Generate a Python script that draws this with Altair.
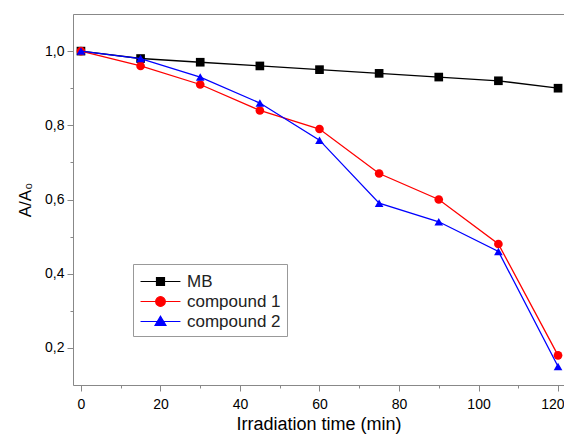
import altair as alt
import pandas as pd

time = [0, 15, 30, 45, 60, 75, 90, 105, 120]
mb = [1.00, 0.98, 0.97, 0.96, 0.95, 0.94, 0.93, 0.92, 0.90]
comp1 = [1.00, 0.96, 0.91, 0.84, 0.79, 0.67, 0.60, 0.48, 0.18]
comp2 = [1.00, 0.98, 0.93, 0.86, 0.76, 0.59, 0.54, 0.46, 0.15]
series = ["MB", "compound 1", "compound 2"]
colors = ["#000000", "#ff0000", "#0000ff"]
shapes = ["square", "circle", "triangle-up"]
x_ticks = [0, 10, 20, 30, 40, 50, 60, 70, 80, 90, 100, 110, 120]
y_ticks = [0.2, 0.3, 0.4, 0.5, 0.6, 0.7, 0.8, 0.9, 1.0]

rows = []
for name, vals in zip(series, [mb, comp1, comp2]):
    for t, v in zip(time, vals):
        rows.append({"t": t, "v": v, "s": name})
df = pd.DataFrame(rows)

FONT = "Liberation Sans"
AX = "#333333"
TXT = "#222222"

xscale = alt.Scale(domain=[-2, 121.5], nice=False, zero=False)
yscale = alt.Scale(domain=[0.1, 1.1], nice=False, zero=False)

x_axis = alt.X("t:Q", scale=xscale,
               axis=alt.Axis(values=x_ticks, title="Irradiation time (min)",
                             labelExpr="datum.value % 20 === 0 ? datum.label : ''",
                             tickSize={"condition": {"test": "datum.value % 20 === 0", "value": 6}, "value": 3},
                             labelAlign={"condition": {"test": "datum.value === 120", "value": "right"}, "value": "center"},
                             labelOffset={"condition": {"test": "datum.value === 120", "value": 6}, "value": 0},
                             grid=False, labelFontSize=14, titleFontSize=18, titlePadding=4,
                             titleFontWeight="normal", labelPadding=6))
x_top = alt.X("t:Q", scale=xscale,
              axis=alt.Axis(orient="top", labels=False, ticks=False, title=None, grid=False))
x_none = alt.X("t:Q", scale=xscale, axis=None)
y = alt.Y("v:Q", scale=yscale,
          axis=alt.Axis(values=y_ticks, title="A/A₀",
                        labelExpr="round(datum.value*10) % 2 === 0 ? replace(format(datum.value, '.1f'), '.', ',') : ''",
                        tickSize={"condition": {"test": "round(datum.value*10) % 2 === 0", "value": 6}, "value": 3},
                        grid=False, labelFontSize=14, titleFontSize=17, titlePadding=10,
                        titleFontWeight="normal", labelPadding=3))

# legend symbols: a line with the marker in its middle
sq = "M-1.9,0H1.9M-0.38,-0.38H0.38V0.38H-0.38Z"
ci = "M-1.9,0H1.9M0.46,0A0.46,0.46 0 1,1 -0.46,0A0.46,0.46 0 1,1 0.46,0Z"
tr = "M-1.9,0H1.9M0,-0.5L0.52,0.38L-0.52,0.38Z"
legend_paths = [sq, ci, tr]

layers = []
first = True
for name, col, shp in zip(series, colors, shapes):
    base = alt.Chart(df).transform_filter(alt.datum.s == name)
    layers.append(base.mark_line(strokeWidth=1.3, color=col).encode(x=x_axis if first else x_none, y=y))
    first = False
    layers.append(base.mark_point(filled=True, size=75, opacity=1, color=col, shape=shp).encode(x=x_none, y=y))

leg = alt.Legend(orient="none", legendX=60, legendY=250, title=None,
                 symbolSize=441, labelFontSize=17, labelFont=FONT,
                 labelColor=TXT, strokeColor="#999999",
                 fillColor="white", padding=6, rowPadding=0,
                 symbolOffset=10, labelOffset=15,
                 symbolStrokeWidth=1.2, symbolOpacity=1)
legend_layer = alt.Chart(df).transform_filter("false").mark_point(
    filled=True, strokeWidth=1.2, opacity=1).encode(
    x=x_top, y=y,
    color=alt.Color("s:N", scale=alt.Scale(domain=series, range=colors), legend=leg),
    stroke=alt.Stroke("s:N", scale=alt.Scale(domain=series, range=colors), legend=leg),
    shape=alt.Shape("s:N", scale=alt.Scale(domain=series, range=legend_paths), legend=leg),
)
layers.append(legend_layer)

chart = alt.layer(*layers).resolve_axis(x="independent").properties(
    width=491, height=371,
    autosize=alt.AutoSizeParams(type="none"),
    padding={"left": 65, "top": 6, "right": 0, "bottom": 52},
).configure_view(stroke=None).configure_axis(
    labelFont=FONT, titleFont=FONT, labelColor=TXT, titleColor=TXT,
    domainColor=AX, tickColor=AX, domainWidth=1.2, tickWidth=1.2
).configure(background="white")

chart.save("out.html", embed_options={"renderer": "svg", "actions": False})
